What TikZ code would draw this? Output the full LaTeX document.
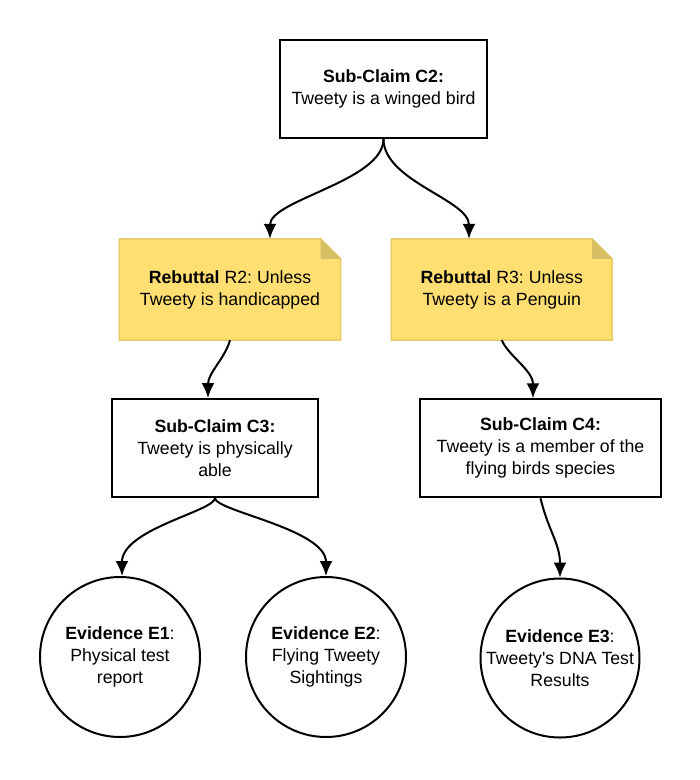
\documentclass[tikz,border=0pt]{standalone}
\usepackage{fontspec}
\setmainfont{Liberation Sans}
\usetikzlibrary{arrows.meta,backgrounds}
\frenchspacing
\definecolor{notefill}{RGB}{255,223,113}
\definecolor{noteline}{RGB}{230,202,104}
\definecolor{notefold}{RGB}{214,190,100}
\newcommand\drawnotebg[1]{%
  \fill[notefill] (#1.north west) -- ([xshift=-20pt]#1.north east) -- ([yshift=-20pt]#1.north east) -- (#1.south east) -- (#1.south west) -- cycle;
  \draw[noteline, line width=1.5pt, line join=miter] (#1.north west) -- ([xshift=-20pt]#1.north east) -- ([yshift=-20pt]#1.north east) -- (#1.south east) -- (#1.south west) -- cycle;
  \fill[notefold] ([xshift=-20pt]#1.north east) -- ([xshift=-20pt,yshift=-20pt]#1.north east) -- ([yshift=-20pt]#1.north east) -- cycle;
}
\begin{document}
\begin{tikzpicture}[x=1pt,y=-1pt,
  every node/.style={font=\fontsize{17.7}{22}\selectfont, align=center, inner sep=0pt},
  claim/.style={draw=black, line width=2pt, minimum width=#1, minimum height=98pt},
  note/.style={minimum width=#1, minimum height=101pt},
  evid/.style={circle, draw=black, line width=2pt, minimum size=160pt},
  conn/.style={line width=2pt, -{Latex[length=15pt,width=13pt]}}
]
\useasboundingbox (0,0) rectangle (700,780);

\node[claim=207pt] (C2) at (383.5,89) {\textbf{Sub-Claim C2:}\\Tweety is a winged bird};
\node[note=221pt] (R2) at (230,289.5) {\textbf{Rebuttal} R2: Unless\\Tweety is handicapped};
\node[note=220.5pt] (R3) at (501.75,289.5) {\textbf{Rebuttal} R3: Unless\\Tweety is a Penguin};
\node[claim=206pt] (C3) at (215,448) {\textbf{Sub-Claim C3:}\\Tweety is physically\\able};
\node[claim=241pt] (C4) at (540.5,448.25) {\textbf{Sub-Claim C4:}\\Tweety is a member of the\\flying birds species};
\node[evid] (E1) at (120,657) {\textbf{Evidence E1}:\\Physical test\\report};
\node[evid] (E2) at (326,657) {\textbf{Evidence E2}:\\Flying Tweety\\Sightings};
\node[evid, minimum size=159pt] (E3) at (560,658) {\textbf{Evidence E3}:\\Tweety\textquotesingle s DNA Test\\Results};

\begin{scope}[on background layer]
  \fill[white] (0,0) rectangle (700,780);
  \drawnotebg{R2}
  \drawnotebg{R3}
\end{scope}

\draw[conn] (C2.south) .. controls ([yshift=-42pt]C2.south) and ([xshift=40pt,yshift=39pt]R2.north) .. ([xshift=40pt]R2.north);
\draw[conn] (C2.south) .. controls ([yshift=-42pt]C2.south) and ([xshift=-32.75pt,yshift=39pt]R3.north) .. ([xshift=-32.75pt]R3.north);
\draw[conn] (R2.south) .. controls ([xshift=-5pt,yshift=-18pt]R2.south) and ([xshift=-7pt,yshift=25pt]C3.north) .. ([xshift=-7pt]C3.north);
\draw[conn] (R3.south) .. controls ([xshift=7pt,yshift=-16pt]R3.south) and ([xshift=-7.5pt,yshift=28pt]C4.north) .. ([xshift=-7.5pt]C4.north);
\draw[conn] (C3.south) .. controls ([yshift=-13pt]C3.south) and ([xshift=2pt,yshift=47pt]E1.north) .. ([xshift=2pt]E1.north);
\draw[conn] (C3.south) .. controls ([yshift=-13pt]C3.south) and ([yshift=47pt]E2.north) .. (E2.north);
\draw[conn] (C4.south) .. controls ([xshift=8pt,yshift=-33pt]C4.south) and ([yshift=34pt]E3.north) .. (E3.north);
\end{tikzpicture}
\end{document}
